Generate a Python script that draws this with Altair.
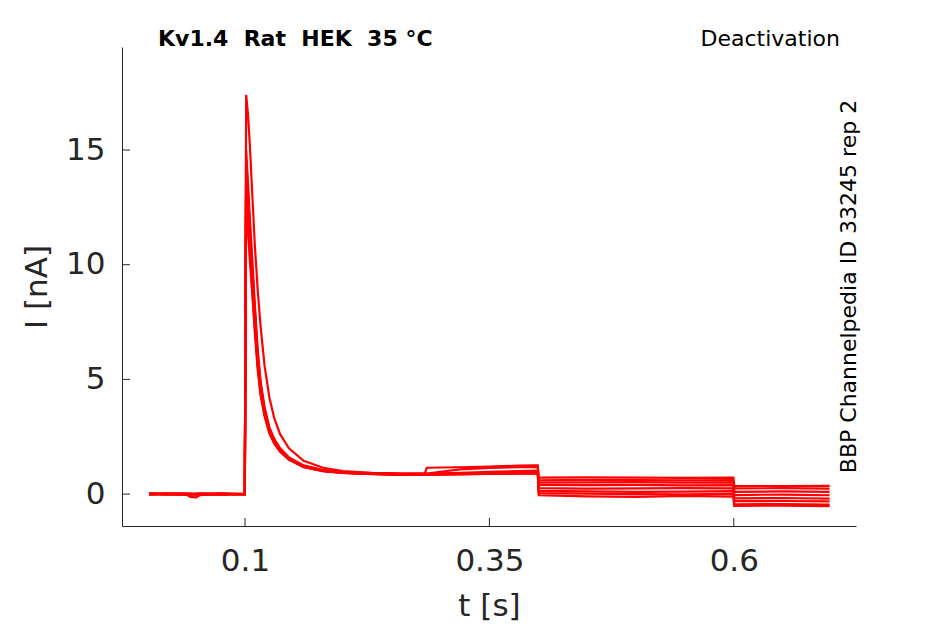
import altair as alt
import pandas as pd

# ---- data ----
TIME = [0.002, 0.020, 0.040, 0.044, 0.050, 0.054, 0.075, 0.0998,
        0.1012, 0.103, 0.105, 0.108, 0.110, 0.113, 0.116, 0.120, 0.125, 0.130,
        0.136, 0.145, 0.160, 0.180, 0.200, 0.230, 0.260,
        0.284, 0.286, 0.320, 0.350, 0.380, 0.3995,
        0.4005, 0.450, 0.500, 0.550, 0.5995,
        0.6005, 0.650, 0.698]

trace1 = ([0.02, 0.00, -0.02, -0.12, -0.14, -0.04, 0.01, 0.00] +
          [17.4, 16.6, 15.2, 12.6, 10.9, 8.9, 7.3, 5.6, 4.2, 3.3, 2.6, 2.0, 1.45, 1.15, 1.00, 0.93, 0.90] +
          [0.90, 1.15, 1.17, 1.20, 1.24, 1.25] +
          [0.60, 0.62, 0.61, 0.60, 0.61] +
          [0.36, 0.35, 0.36])
trace2 = ([0.00, 0.03, 0.01, 0.00, 0.01, 0.02, -0.01, 0.01] +
          [15.0, 13.6, 12.0, 9.8, 8.3, 6.3, 4.9, 3.8, 2.9, 2.4, 2.0, 1.6, 1.25, 1.05, 0.96, 0.90, 0.87] +
          [0.88, 0.90, 1.08, 1.14, 1.17, 1.18] +
          [0.72, 0.73, 0.72, 0.71, 0.72] +
          [0.25, 0.26, 0.24])
trace3 = ([-0.02, 0.01, 0.02, -0.01, 0.00, 0.00, 0.02, -0.01] +
          [14.6, 13.3, 11.7, 9.6, 8.1, 6.1, 4.8, 3.7, 2.85, 2.35, 1.95, 1.58, 1.23, 1.04, 0.95, 0.90, 0.87] +
          [0.88, 0.88, 0.93, 0.97, 1.00, 1.02] +
          [0.50, 0.51, 0.52, 0.50, 0.51] +
          [0.10, 0.12, 0.10])
trace4 = ([0.01, -0.02, 0.00, 0.02, -0.01, -0.02, 0.00, 0.02] +
          [14.2, 12.9, 11.4, 9.3, 7.9, 6.0, 4.7, 3.6, 2.8, 2.3, 1.92, 1.55, 1.21, 1.03, 0.95, 0.89, 0.86] +
          [0.87, 0.87, 0.90, 0.93, 0.95, 0.96] +
          [0.40, 0.39, 0.40, 0.38, 0.39] +
          [-0.04, -0.02, -0.05])
trace5 = ([0.00, 0.00, -0.03, 0.01, 0.00, 0.01, -0.02, 0.00] +
          [13.8, 12.6, 11.1, 9.1, 7.7, 5.8, 4.6, 3.55, 2.75, 2.27, 1.9, 1.53, 1.2, 1.02, 0.94, 0.89, 0.86] +
          [0.87, 0.87, 0.89, 0.91, 0.92, 0.93] +
          [0.26, 0.24, 0.25, 0.26, 0.25] +
          [-0.19, -0.17, -0.20])
trace6 = ([0.03, 0.01, 0.00, -0.02, 0.01, 0.03, 0.01, -0.02] +
          [13.4, 12.2, 10.8, 8.9, 7.5, 5.7, 4.5, 3.5, 2.7, 2.24, 1.88, 1.52, 1.19, 1.01, 0.93, 0.88, 0.85] +
          [0.86, 0.86, 0.88, 0.90, 0.91, 0.92] +
          [0.14, 0.12, 0.10, 0.11, 0.13] +
          [-0.31, -0.30, -0.32])
trace7 = ([-0.01, 0.02, 0.01, 0.00, -0.02, -0.01, 0.03, 0.00] +
          [13.0, 11.9, 10.5, 8.6, 7.3, 5.6, 4.4, 3.45, 2.68, 2.22, 1.86, 1.5, 1.18, 1.0, 0.93, 0.88, 0.85] +
          [0.85, 0.85, 0.87, 0.89, 0.90, 0.91] +
          [0.04, 0.02, 0.00, -0.01, 0.01] +
          [-0.45, -0.43, -0.46])
trace8 = ([0.02, -0.01, 0.02, 0.01, 0.01, 0.00, -0.01, 0.01] +
          [12.5, 11.5, 10.2, 8.4, 7.1, 5.4, 4.3, 3.4, 2.65, 2.2, 1.85, 1.5, 1.17, 1.0, 0.92, 0.87, 0.84] +
          [0.85, 0.85, 0.86, 0.88, 0.89, 0.90] +
          [-0.05, -0.10, -0.12, -0.08, -0.11] +
          [-0.51, -0.50, -0.52])

TRACES = [trace1, trace2, trace3, trace4, trace5, trace6, trace7, trace8]

X_TICKS = [0.1, 0.35, 0.6]
Y_TICKS = [0, 5, 10, 15]
X_DOMAIN = [-0.0258, 0.725]
Y_DOMAIN = [-1.39, 19.49]

TITLE_LEFT = "Kv1.4\u00a0\u00a0Rat\u00a0\u00a0HEK\u00a0\u00a035\u00a0°C"
TITLE_RIGHT = "Deactivation"
SIDE_TEXT = "BBP Channelpedia ID 33245 rep 2"

# ---- build long table ----
rows = []
for k, tr in enumerate(TRACES):
    for i, (t, v) in enumerate(zip(TIME, tr)):
        rows.append({"t": t, "I": v, "trace": k, "idx": i})
df = pd.DataFrame(rows)

W, H = 734, 479
FONT = "DejaVu Sans"
AXC = "#262626"

xs = alt.Scale(domain=X_DOMAIN, nice=False, zero=False)
ys = alt.Scale(domain=Y_DOMAIN, nice=False, zero=False)
x_axis = alt.Axis(values=X_TICKS, format=".2~f", title="t [s]",
                  labelPadding=20, titlePadding=15)
y_axis = alt.Axis(values=Y_TICKS, format="d", title="I [nA]",
                  labelPadding=17, titlePadding=12)

lines = alt.Chart(df).mark_line(color="#ff0000", strokeWidth=2.2, clip=True).encode(
    x=alt.X("t:Q", scale=xs, axis=x_axis),
    y=alt.Y("I:Q", scale=ys, axis=y_axis),
    detail="trace:N",
    order="idx:Q",
)

xt = alt.Chart(pd.DataFrame({"t": X_TICKS})).mark_rule(color=AXC, strokeWidth=1).encode(
    x=alt.X("t:Q", scale=xs, axis=x_axis),
    y=alt.value(H), y2=alt.value(H - 8),
)
yt = alt.Chart(pd.DataFrame({"I": Y_TICKS})).mark_rule(color=AXC, strokeWidth=1).encode(
    y=alt.Y("I:Q", scale=ys, axis=y_axis),
    x=alt.value(0), x2=alt.value(8),
)

one = pd.DataFrame({"a": [0]})
t_left = alt.Chart(one).mark_text(
    text=TITLE_LEFT, font=FONT, fontSize=22, fontWeight="bold", color="#000000",
    align="left", baseline="alphabetic"
).encode(x=alt.value(36), y=alt.value(-1))
t_right = alt.Chart(one).mark_text(
    text=TITLE_RIGHT, font=FONT, fontSize=22, color="#000000",
    align="right", baseline="alphabetic"
).encode(x=alt.value(718), y=alt.value(-1))
t_side = alt.Chart(one).mark_text(
    text=SIDE_TEXT, font=FONT, fontSize=22, color="#000000", angle=270,
    align="center", baseline="alphabetic"
).encode(x=alt.value(733.5), y=alt.value(239.5))

chart = alt.layer(lines, xt, yt, t_left, t_right, t_side).properties(
    width=W, height=H,
    autosize=alt.AutoSizeParams(type="none"),
    padding={"left": 114, "top": 39, "right": 81, "bottom": 97},
).configure_view(stroke=None).configure_axis(
    grid=False, ticks=False, tickSize=0,
    domainColor=AXC, domainWidth=1,
    labelFont=FONT, labelFontSize=31, labelColor=AXC,
    titleFont=FONT, titleFontSize=31, titleFontWeight="normal", titleColor=AXC,
)

chart.save("out.html", embed_options={"renderer": "svg", "actions": False})
